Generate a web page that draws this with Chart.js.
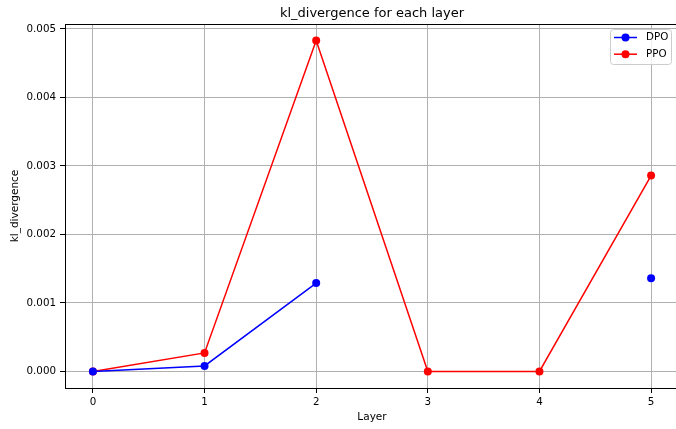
<!DOCTYPE html>
<html><head><meta charset="utf-8">
<script src="https://cdn.jsdelivr.net/npm/chart.js@4.4.1/dist/chart.umd.min.js"></script>
<style>html,body{margin:0;padding:0;overflow:hidden;background:#fff;width:676px;height:429px}canvas{display:block}</style>
</head><body><canvas id="c" width="690" height="429" style="width:690px;height:429px"></canvas>
<script>
const layers = [0, 1, 2, 3, 4, 5];
const dpoValues = [0, 0.00008, 0.00129, null, null, 0.00136];
const ppoValues = [0, 0.00027, 0.00483, 0, 0, 0.00286];
const yTickValues = [0, 0.001, 0.002, 0.003, 0.004, 0.005];
const xTickValues = [0, 1, 2, 3, 4, 5];
const seriesNames = ['DPO', 'PPO'];
const seriesColors = ['#0000ff', '#ff0000'];
const chartTitle = 'kl_divergence for each layer';

const FONT = '"DejaVu Sans", sans-serif';
const allVals = dpoValues.concat(ppoValues).filter(v => v !== null);
const dMin = Math.min(...allVals), dMax = Math.max(...allVals);
const yPad = (dMax - dMin) * 0.05;
const xPad = (layers[layers.length - 1] - layers[0]) * 0.05;

function pts(vals) { return layers.map((x, i) => ({x: x, y: vals[i]})); }

const framePlugin = {
  id: 'frame',
  afterDraw(chart) {
    const {ctx, chartArea: a} = chart;
    ctx.save();
    ctx.strokeStyle = '#000';
    ctx.lineWidth = 1;
    ctx.strokeRect(Math.round(a.left) + 0.5, Math.round(a.top) + 0.5, Math.round(a.right - a.left), Math.round(a.bottom - a.top));
    // title centred over the axes
    ctx.fillStyle = '#000';
    ctx.font = '13px ' + FONT;
    ctx.textAlign = 'center';
    ctx.textBaseline = 'alphabetic';
    ctx.fillText(chartTitle, (a.left + a.right) / 2, 17.3);
    // legend
    const bx = 610.5, by = 29.5, bw = 61, bh = 35, r = 3;
    ctx.beginPath();
    ctx.moveTo(bx + r, by);
    ctx.arcTo(bx + bw, by, bx + bw, by + bh, r);
    ctx.arcTo(bx + bw, by + bh, bx, by + bh, r);
    ctx.arcTo(bx, by + bh, bx, by, r);
    ctx.arcTo(bx, by, bx + bw, by, r);
    ctx.closePath();
    ctx.fillStyle = 'rgba(255,255,255,0.8)';
    ctx.fill();
    ctx.strokeStyle = '#cccccc';
    ctx.lineWidth = 1;
    ctx.stroke();
    ctx.font = '10.3px ' + FONT;
    ctx.textBaseline = 'middle';
    ctx.textAlign = 'left';
    seriesNames.forEach((name, i) => {
      const y = 37.5 + i * 16.7;
      ctx.strokeStyle = seriesColors[i];
      ctx.lineWidth = 1.5;
      ctx.beginPath(); ctx.moveTo(614, y); ctx.lineTo(637, y); ctx.stroke();
      ctx.fillStyle = seriesColors[i];
      ctx.beginPath(); ctx.arc(625.5, y, 4, 0, Math.PI * 2); ctx.fill();
      ctx.fillStyle = '#000';
      ctx.fillText(name, 646, y);
    });
    ctx.restore();
  }
};

new Chart(document.getElementById('c'), {
  type: 'line',
  data: {
    datasets: [
      {label: seriesNames[0], data: pts(dpoValues), borderColor: seriesColors[0], backgroundColor: seriesColors[0], borderWidth: 1.5, pointRadius: 4, pointBorderWidth: 0, spanGaps: false, tension: 0},
      {label: seriesNames[1], data: pts(ppoValues), borderColor: seriesColors[1], backgroundColor: seriesColors[1], borderWidth: 1.5, pointRadius: 4, pointBorderWidth: 0, spanGaps: false, tension: 0}
    ]
  },
  options: {
    responsive: false,
    animation: false,
    devicePixelRatio: 1,
    events: [],
    layout: {padding: {left: 0, right: 11, top: 24, bottom: 0}},
    plugins: {
      legend: {display: false},
      tooltip: {enabled: false},
      title: {display: false}
    },
    scales: {
      x: {
        type: 'linear', min: layers[0] - xPad, max: layers[layers.length - 1] + xPad, offset: false,
        afterBuildTicks: s => { s.ticks = xTickValues.map(v => ({value: v})); },
        afterFit: s => { s.height = 41; },
        grid: {color: '#b0b0b0', lineWidth: 1, tickColor: '#000', tickLength: 5, drawTicks: true},
        border: {display: false},
        ticks: {color: '#000', font: {family: FONT, size: 10.3}, padding: 3, maxRotation: 0, callback: v => String(v)},
        title: {display: true, text: 'Layer', color: '#000', font: {family: FONT, size: 10.5, lineHeight: 1.2}, padding: {top: 0, bottom: 5}}
      },
      y: {
        type: 'linear', min: dMin - yPad, max: dMax + yPad,
        afterBuildTicks: s => { s.ticks = yTickValues.map(v => ({value: v})); },
        afterFit: s => { s.width = 65; },
        grid: {color: '#b0b0b0', lineWidth: 1, tickColor: '#000', tickLength: 5, drawTicks: true},
        border: {display: false},
        ticks: {color: '#000', font: {family: FONT, size: 10.3}, padding: 4, callback: v => v.toFixed(3)},
        title: {display: true, text: 'kl_divergence', color: '#000', font: {family: FONT, size: 10.5, lineHeight: 1.2}, padding: {top: 9, bottom: 0}}
      }
    }
  },
  plugins: [framePlugin]
});
</script>
</body></html>
